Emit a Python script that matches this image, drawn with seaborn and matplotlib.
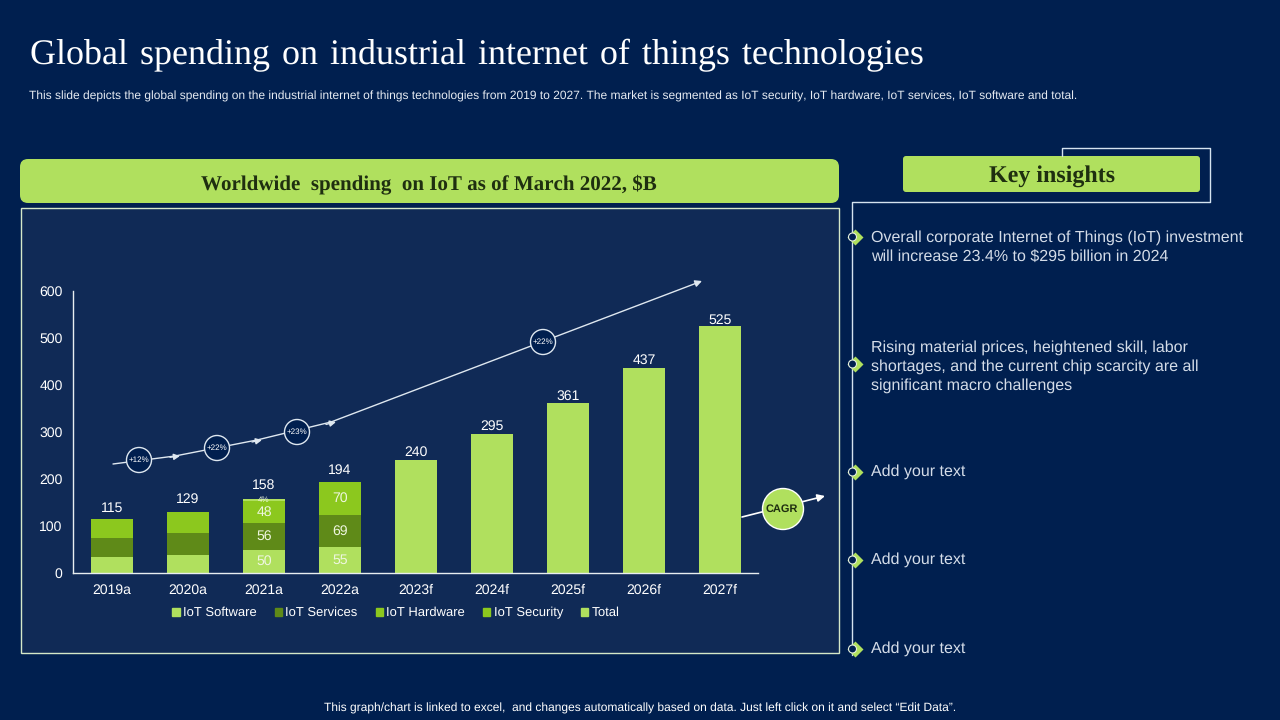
import matplotlib
matplotlib.use('Agg')
import matplotlib.pyplot as plt
from matplotlib.patches import Circle, FancyBboxPatch, Patch, Rectangle
import numpy as np
import pandas as pd
import seaborn as sns

years = ['2019a', '2020a', '2021a', '2022a', '2023f', '2024f', '2025f', '2026f', '2027f']
iot_software = [33, 39, 50, 55, 0, 0, 0, 0, 0]
iot_services = [41, 47, 56, 69, 0, 0, 0, 0, 0]
iot_hardware = [41, 43, 48, 70, 0, 0, 0, 0, 0]
iot_security = [0, 0, 4, 0, 0, 0, 0, 0, 0]
total = [115, 129, 158, 194, 240, 295, 361, 437, 525]
segment_labels = [None, None, ('50', '56', '48', '4%'), ('55', '69', '70', '')]
growth_labels = ['+12%', '+22%', '+23%', '+22%']
insights = ['Overall corporate Internet of Things (IoT) investment\nwill increase 23.4% to \\$295 billion in 2024',
            'Rising material prices, heightened skill, labor\nshortages, and the current chip scarcity are all\nsignificant macro challenges',
            'Add your text', 'Add your text', 'Add your text']

BG = '#001f4f'
PANEL = '#102a56'
LIME = '#b0e05e'
DARK = '#5f8a18'
MID = '#8cc81e'
PALE = '#dfe8f0'

sns.set_theme(style='white')
plt.rcParams['font.family'] = ['Liberation Sans', 'DejaVu Sans']
plt.rcParams['text.hinting'] = 'no_hinting'
plt.rcParams['text.hinting_factor'] = 1

fig = plt.figure(figsize=(12.8, 7.2), dpi=100, facecolor=BG)

# pixel coords for the slide furniture
bg = fig.add_axes([0, 0, 1, 1], zorder=0)
bg.set_xlim(0, 1280)
bg.set_ylim(720, 0)
bg.axis('off')

bg.text(30, 55, 'Global \u200aspending \u200aon \u200aindustrial \u200ainternet \u200aof \u200athings \u200atechnologies', color='white',
        fontsize=26.2, family=['Liberation Serif', 'DejaVu Serif'], va='center')
bg.text(29, 96.5, 'This slide depicts the global spending on the industrial internet of things technologies from 2019 to 2027. '
        'The market is segmented as IoT security, IoT hardware, IoT services, IoT software and total.',
        color='#e6ebf2', fontsize=8.64, va='center')
bg.add_patch(FancyBboxPatch((20, 159), 819, 44, boxstyle='round,pad=0,rounding_size=8', fc=LIME, ec='none'))
bg.text(429, 184, 'Worldwide  spending  on IoT as of March 2022, \\$B', color='#1f2f10', fontsize=14.8,
        family='Liberation Serif', weight='bold', ha='center', va='center')
bg.add_patch(Rectangle((21, 208), 818, 445, fc=PANEL, ec='#d5e8c8', lw=1))

bg.plot([1062, 1062, 1210, 1210, 852, 852], [156, 148, 148, 202, 202, 655], color='#d5e3f0', lw=1)
bg.add_patch(FancyBboxPatch((903, 156), 297, 36, boxstyle='round,pad=0,rounding_size=3', fc=LIME, ec='none'))
bg.text(1052, 176, 'Key insights', color='#1f2f10', fontsize=17, family='Liberation Serif', weight='bold',
        ha='center', va='center')

for y, txt, ty in zip([237, 364, 472, 560, 649], insights, [247, 366.5, 472, 560, 649]):
    bg.plot([855], [y], marker='D', ms=8.2, color=LIME, mec='none')
    bg.add_patch(Circle((852.5, y), 4, fc=BG, ec='#e6f0e0', lw=0.8, zorder=3))
    bg.text(871, ty, txt, color='#d4dce8', fontsize=11.3, va='center', linespacing=1.36)

bg.text(640, 708.5, 'This graph/chart is linked to excel,  and changes automatically based on data. Just left click on it and select \u201cEdit Data\u201d.',
        color='white', fontsize=8.64, ha='center', va='center')

# chart itself
ax = fig.add_axes([73 / 1280, 1 - 573 / 720, 685 / 1280, 282 / 720], zorder=1)
ax.patch.set_alpha(0)

df = pd.DataFrame({'year': years, 'software': iot_software, 'services': iot_services,
                   'hardware': iot_hardware, 'security': iot_security, 'total': total})
df['top_software'] = df['software']
df['top_services'] = df['top_software'] + df['services']
df['top_hardware'] = df['top_services'] + df['hardware']
df['top_security'] = df['top_hardware'] + df['security']

# stacked by overplotting, tallest layer first
sns.barplot(data=df, x='year', y='total', color=LIME, saturation=1, width=0.54, linewidth=0, ax=ax)
for col, c in [('top_security', LIME), ('top_hardware', MID), ('top_services', DARK), ('top_software', LIME)]:
    sns.barplot(data=df, x='year', y=col, color=c, saturation=1, width=0.54, linewidth=0, ax=ax)

ax.set_xlim(-0.513, 8.5)
ax.set_ylim(0, 600)
ax.set_xlabel('')
ax.set_ylabel('')
ax.set_yticks(range(0, 601, 100))
ax.tick_params(colors='white', labelsize=10, length=0)
ax.tick_params(axis='x', pad=7.5)
ax.tick_params(axis='y', pad=7.5)
sns.despine(ax=ax)
for s in ['left', 'bottom']:
    ax.spines[s].set_color('#e8eef0')
    ax.spines[s].set_linewidth(1)

# the source labels sit at uneven gaps above the bars
label_gaps = [12, 14, 15, 13, 9, 9, 8, 9, 7]
for i, v in enumerate(total):
    ax.annotate(str(v), (i, v), xytext=(0, 2 + (label_gaps[i] - 10.5) * 0.72), textcoords='offset points',
                ha='center', va='bottom', color='white', fontsize=10)

for i, labs in enumerate(segment_labels):
    if labs is None:
        continue
    tops = [0, df.top_software[i], df.top_services[i], df.top_hardware[i], df.top_security[i]]
    for j, lab in enumerate(labs):
        if lab:
            ax.text(i, (tops[j] + tops[j + 1]) / 2, lab, ha='center', va='center',
                    color='#eef6df', fontsize=6 if lab == '4%' else 10)

handles = [Patch(color=c, label=l) for c, l in [(LIME, 'IoT Software'), (DARK, 'IoT Services'), (MID, 'IoT Hardware'),
                                                 (MID, 'IoT Security'), (LIME, 'Total')]]
ax.legend(handles=handles, ncol=5, frameon=False, loc='center', bbox_to_anchor=(323 / 685, -40 / 282),
          fontsize=9.6, labelcolor='white', handlelength=0.55, handleheight=0.55, handletextpad=0.25, columnspacing=1.35)

# growth arrow and badges on top
top = fig.add_axes([0, 0, 1, 1], zorder=2)
top.set_xlim(0, 1280)
top.set_ylim(720, 0)
top.axis('off')
top.patch.set_alpha(0)

arrow_x = np.array([113, 175, 257, 331, 702])
arrow_y = np.array([464, 456, 440, 422, 281])
top.plot(arrow_x[:-1], arrow_y[:-1], color=PALE, lw=1)
for a, b in zip(range(3), range(1, 4)):
    top.annotate('', xy=(arrow_x[b] + 5, arrow_y[b]), xytext=(arrow_x[b] - 5, arrow_y[b] + (arrow_y[a] - arrow_y[b]) * 10 / (arrow_x[b] - arrow_x[a])),
                 arrowprops=dict(arrowstyle='-|>', color=PALE, lw=1, mutation_scale=9, shrinkA=0, shrinkB=0))
top.annotate('', xy=(702, 281), xytext=(331, 422), arrowprops=dict(arrowstyle='-|>', color=PALE, lw=1, mutation_scale=10, shrinkA=0, shrinkB=0))

for (cx, cy), lab in zip([(139, 460), (217, 448), (297, 432), (543, 342)], growth_labels):
    top.add_patch(Circle((cx, cy), 12.5, fc=BG, ec=PALE, lw=1, zorder=4))
    top.text(cx, cy, lab, color='white', fontsize=6, ha='center', va='center', zorder=5)

top.annotate('', xy=(825, 496), xytext=(742, 517), arrowprops=dict(arrowstyle='-|>', color='white', lw=1.2, mutation_scale=11, shrinkA=0, shrinkB=0))
top.add_patch(Circle((783, 509), 20.5, fc=LIME, ec='white', lw=1, zorder=4))
top.text(782, 509, 'CAGR', color='#1f2f10', fontsize=8, weight='bold', ha='center', va='center', zorder=5)

plt.savefig('out.png', dpi=100, facecolor=BG)
